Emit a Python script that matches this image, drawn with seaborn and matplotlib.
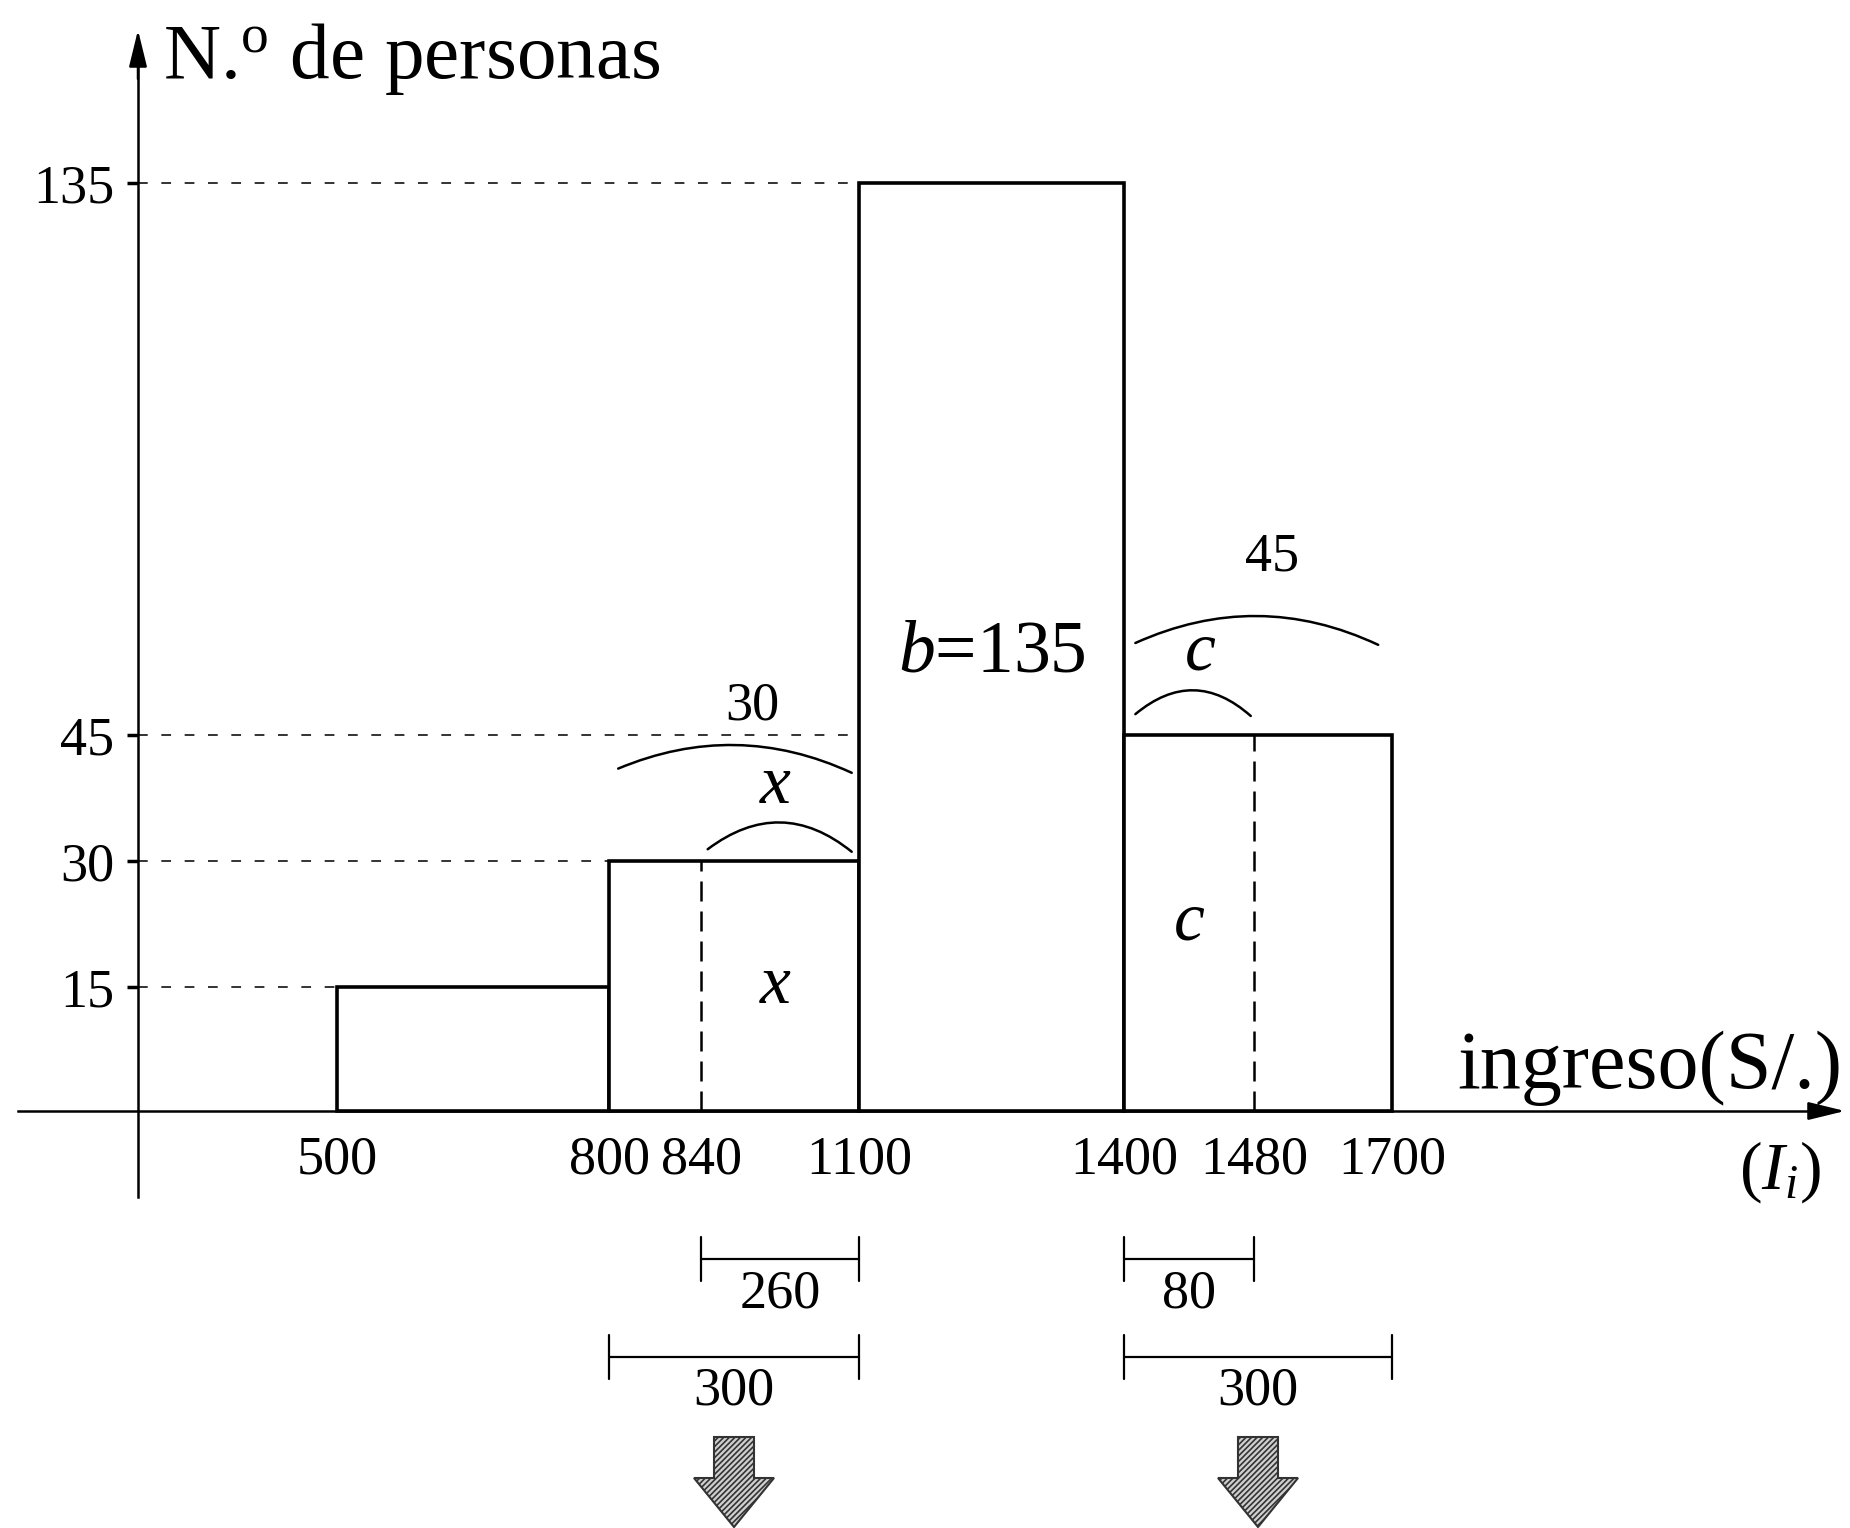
import numpy as np
import matplotlib
matplotlib.use("Agg")
import matplotlib.pyplot as plt
from matplotlib.patches import Polygon
from matplotlib.transforms import IdentityTransform
import seaborn as sns

# intervalos de ingreso (S/.) y número de personas
EDGES = [500, 800, 1100, 1400, 1700]
COUNTS = [15, 30, 135, 45]
X_TICKS = [500, 800, 840, 1100, 1400, 1480, 1700]
Y_TICKS = [15, 30, 45, 135]
SPLITS = [840, 1480]          # límite del tramo parcial
SPLIT_H = [30, 45]
SPLIT_NAMES = ["x", "c"]
SPANS = [(840, 1100), (800, 1100), (1400, 1480), (1400, 1700)]
SPAN_ROW = [0, 1, 0, 1]

# el dibujo del libro no es proporcional: escala a trozos (valor -> pixel)
X_ORIGIN = 300
W, H = 1850, 1528
X_PX = [138, 337, 609, 701, 859, 1124, 1254, 1392]
Y_PX = [1111, 987, 861, 735, 183]


def piecewise(vals, px, lo, hi):
    v = np.r_[-1e5, vals, 1e5]
    p = np.r_[px[0] - (vals[0] + 1e5) * lo, px, px[-1] + (1e5 - vals[-1]) * hi]
    return (lambda a: np.interp(a, v, p)), (lambda a: np.interp(a, p, v))


fx, ix = piecewise([X_ORIGIN] + X_TICKS, X_PX, 0.995, 0.893)
fy, iy = piecewise([0] + Y_TICKS, [H - p for p in Y_PX], 8.27, 6.13)

sns.set_theme(style="white")
plt.rcParams["font.family"] = ["Liberation Serif", "DejaVu Serif"]
plt.rcParams["mathtext.fontset"] = "custom"
plt.rcParams["mathtext.rm"] = "Liberation Serif"
plt.rcParams["mathtext.it"] = "Liberation Serif:italic"
plt.rcParams["hatch.linewidth"] = 1.2
for k in ["text.color", "axes.labelcolor", "xtick.color", "ytick.color"]:
    plt.rcParams[k] = "black"

fig = plt.figure(figsize=(W / 100, H / 100), dpi=100)
ax = fig.add_axes([0, 0, 1, 1])

# histograma primero (escala lineal), luego la escala del dibujo
sns.histplot(x=EDGES[:-1], weights=COUNTS, bins=EDGES, ax=ax, color="white",
             edgecolor="black", linewidth=2.6, alpha=1, zorder=3)
ax.set_xlabel("")
ax.set_ylabel("")
ax.set_xscale("function", functions=(fx, ix))
ax.set_yscale("function", functions=(fy, iy))
ax.set_xlim(ix(0), ix(W))
ax.set_ylim(iy(0), iy(H))

# ejes con flecha
y_low, y_top = iy(H - 1197), iy(H - 30)
x_left, x_tip = ix(18), ix(1845)
for s in ["top", "right"]:
    ax.spines[s].set_visible(False)
ax.spines["left"].set_position(("data", X_ORIGIN))
ax.spines["bottom"].set_position(("data", 0))
ax.spines["left"].set_bounds(y_low, y_top - 3)
ax.spines["bottom"].set_bounds(x_left, x_tip - 15)
for s in ["left", "bottom"]:
    ax.spines[s].set_color("black")
    ax.spines[s].set_linewidth(1.8)
    ax.spines[s].set_zorder(4)
arr = dict(arrowstyle="-|>,head_length=0.9,head_width=0.22", color="black",
           lw=1.8, mutation_scale=25, shrinkA=0, shrinkB=0)
ax.annotate("", xy=(X_ORIGIN, y_top), xytext=(X_ORIGIN, y_top - 8), arrowprops=arr)
ax.annotate("", xy=(x_tip, 0), xytext=(x_tip - 40, 0), arrowprops=arr)

ax.set_xticks(X_TICKS, [str(v) for v in X_TICKS])
ax.set_xticks(SPLITS, minor=True)
ax.set_yticks(Y_TICKS, [str(v) for v in Y_TICKS])
ax.set_yticks([], minor=True)
ax.tick_params(axis="x", which="major", length=0, pad=17, labelsize=39)
ax.tick_params(axis="x", which="minor", length=13, width=1.8, direction="out",
               bottom=True, color="black")
ax.tick_params(axis="y", which="major", length=8, width=2.5, direction="out",
               left=True, pad=9, labelsize=39, color="black")

# líneas punteadas de referencia
dash_h = dict(color="#333333", lw=1.4, ls=(0, (5, 7)), zorder=2)
for lvl in Y_TICKS:
    end = next(e for e, c in zip(EDGES, COUNTS) if c >= lvl)
    ax.plot([X_ORIGIN, end], [lvl, lvl], **dash_h)
ax.vlines(SPLITS, 0, SPLIT_H, color="black", lw=1.8, ls=(0, (8, 4)), zorder=4)


# arcos y etiquetas
def arc(x0, y0, x1, y1, rad):
    ax.annotate("", xy=(x1, y1), xytext=(x0, y0),
                arrowprops=dict(arrowstyle="-", color="black", lw=1.8,
                                connectionstyle=f"arc3,rad={rad}",
                                shrinkA=0, shrinkB=0))


arc(804, 41.0, 1088, 40.5, -0.22)
arc(851, 31.4, 1088, 31.1, -0.39)
arc(1407, 60.0, 1678, 59.7, -0.23)
arc(1407, 48.4, 1478, 48.1, -0.43)

num = dict(ha="center", va="center", fontsize=39)
ax.text(924, 49.7, str(COUNTS[1]), **num)
ax.text(1509, 74.0, str(COUNTS[3]), **num)
ax.text(1250, 58.2, f"$b$={COUNTS[2]}", ha="center", va="center", fontsize=53)
ital = dict(ha="center", va="baseline", fontsize=50, style="italic")
ax.text(963, 36.9, SPLIT_NAMES[0], **ital)
ax.text(963, 13.1, SPLIT_NAMES[0], **ital)
ax.text(1447, 55.6, SPLIT_NAMES[1], **ital)
ax.text(1440, 20.6, SPLIT_NAMES[1], **ital)

# medidas de los tramos bajo el eje
tr = ax.get_xaxis_transform()
rows = [1 - 1259 / H, 1 - 1357 / H]
labs = [1 - 1294 / H, 1 - 1391 / H]
tk = 22 / H
for (a, b), r in zip(SPANS, SPAN_ROW):
    y = rows[r]
    ax.plot([a, b], [y, y], color="black", lw=1.6, transform=tr, clip_on=False)
    for e in (a, b):
        ax.plot([e, e], [y - tk, y + tk], color="black", lw=1.6, transform=tr,
                clip_on=False)
    mid = ix((fx(a) + fx(b)) / 2)
    ax.text(mid, labs[r], str(b - a), transform=tr, **num)

# flechas grises
for (a, b), r in zip(SPANS, SPAN_ROW):
    if r != 1:
        continue
    cx = (fx(a) + fx(b)) / 2
    verts = [(cx - 20, 91), (cx + 20, 91), (cx + 20, 50), (cx + 40, 50),
             (cx, 1), (cx - 40, 50), (cx - 20, 50)]
    ax.add_patch(Polygon(verts, closed=True, facecolor="#cfcfcf", edgecolor="#333333",
                         hatch="//////", lw=1.5, transform=IdentityTransform(),
                         clip_on=False))

fig.text(163 / W, 1 - 78 / H, r"N.$^{\mathrm{o}}$ de personas", fontsize=57,
         ha="left", va="baseline")
fig.text(1842 / W, 1 - 1088 / H, "ingreso(S/.)", fontsize=59, ha="right",
         va="baseline")
fig.text(1780 / W, 1 - 1172 / H, r"($I_i$)", fontsize=49, ha="center", va="center")

fig.savefig("out.png", dpi=100)
